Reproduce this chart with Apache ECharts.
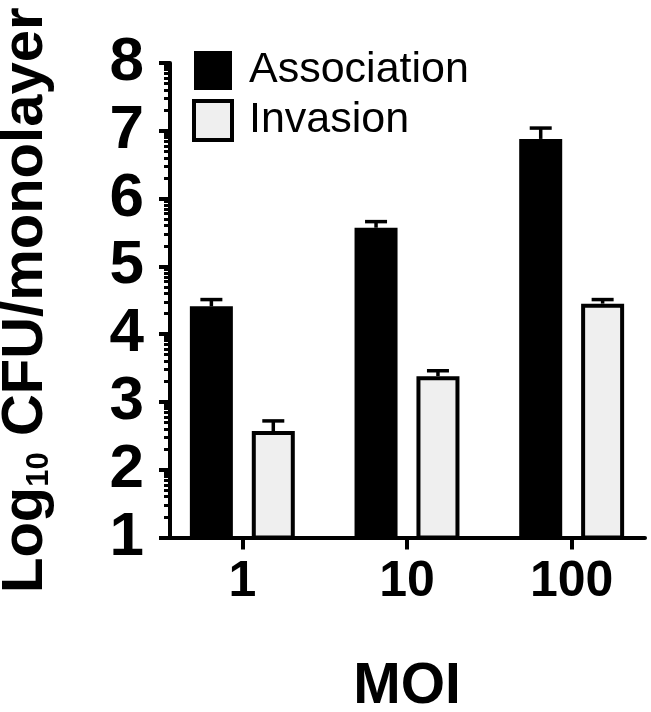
<!DOCTYPE html>
<html>
<head>
<meta charset="utf-8">
<script src="https://cdn.jsdelivr.net/npm/echarts@6/dist/echarts.min.js"></script>
<style>html,body{margin:0;padding:0;background:#fff}#c{width:651px;height:712px}</style>
</head>
<body>
<div id="c"></div>
<script>
const categories = ['1', '10', '100'];
const association = [4.41, 5.57, 6.88];
const associationErr = [0.10, 0.09, 0.16];
const invasion = [2.57, 3.38, 4.45];
const invasionErr = [0.15, 0.08, 0.06];
const yMin = 1, yMax = 8;
const minorTickValues = [];
for (let i = yMin; i < yMax; i++) {
  for (let k = 2; k <= 9; k++) minorTickValues.push(i + Math.log10(k));
}

const FONT = '"Liberation Sans", Arial, sans-serif';
const chart = echarts.init(document.getElementById('c'), null, {renderer: 'canvas'});

function errData(vals, errs) {
  return vals.map((v, i) => [i, v, errs[i]]);
}
function errRender(order) {
  return function (params, api) {
    const idx = api.value(0), top = api.value(1), err = api.value(2);
    const layout = api.barLayout({barWidth: 43, barGap: '44%', count: 2});
    const off = layout[order].offsetCenter;
    const b = api.coord([idx, top]);
    const h = api.coord([idx, top + err]);
    const x = b[0] + off;
    const st = {stroke: '#000', lineWidth: 3.5};
    return {
      type: 'group',
      children: [
        {type: 'line', shape: {x1: x, y1: b[1], x2: x, y2: h[1]}, style: st},
        {type: 'line', shape: {x1: x - 11, y1: h[1], x2: x + 11, y2: h[1]}, style: st}
      ]
    };
  };
}

const option = {
  animation: false,
  backgroundColor: '#fff',
  textStyle: {fontFamily: FONT},
  grid: [
    {left: 160, width: 494, top: 63, height: 474.5, outerBoundsMode: 'none', containLabel: false},
    {left: 170, width: 475, top: 63, height: 474.5, outerBoundsMode: 'none', containLabel: false}
  ],
  legend: {
    orient: 'vertical', left: 192, top: 49, padding: 0,
    icon: 'rect', itemWidth: 38, itemHeight: 39, itemGap: 7,
    textStyle: {fontFamily: FONT, fontSize: 43, color: '#000', padding: [0, 0, 0, 12], lineHeight: 39},
    data: [{name: 'Association'}, {name: 'Invasion', itemStyle: {borderWidth: 4, borderColor: '#000'}}]
  },
  xAxis: [
    {
      type: 'category', gridIndex: 0, data: categories,
      axisLine: {show: false},
      axisTick: {show: true, alignWithLabel: true, length: 12, lineStyle: {color: '#000', width: 4}},
      axisLabel: {fontFamily: FONT, fontSize: 50, fontWeight: 'bold', color: '#000', margin: 20},
      name: 'MOI', nameLocation: 'middle', nameGap: 121,
      nameTextStyle: {fontFamily: FONT, fontSize: 57, fontWeight: 'bold', color: '#000'}
    },
    {
      type: 'value', gridIndex: 1, min: 0, max: 1,
      axisLine: {show: true, lineStyle: {color: '#000', width: 4}},
      axisTick: {show: false}, axisLabel: {show: false}, splitLine: {show: false}
    }
  ],
  yAxis: [
    {
      type: 'value', gridIndex: 1, position: 'left', min: yMin, max: yMax, interval: 1,
      axisLine: {show: true, lineStyle: {color: '#000', width: 4}},
      axisTick: {show: true, length: 11, lineStyle: {color: '#000', width: 4}},
      axisLabel: {fontFamily: FONT, fontSize: 62, fontWeight: 'bold', color: '#000', margin: 26},
      splitLine: {show: false},
      name: '{a|Log}{s|10}{a| CFU/monolayer}',
      nameLocation: 'middle', nameGap: 115,
      nameTextStyle: {
        color: '#000',
        rich: {
          a: {fontFamily: FONT, fontSize: 58, fontWeight: 'bold', color: '#000', lineHeight: 58},
          s: {fontFamily: FONT, fontSize: 31, fontWeight: 'bold', color: '#000', lineHeight: 37, verticalAlign: 'bottom'}
        }
      }
    },
    {
      type: 'value', gridIndex: 1, position: 'left', min: yMin, max: yMax,
      axisLine: {show: false},
      axisTick: {show: true, length: 6, customValues: minorTickValues, lineStyle: {color: '#000', width: 3}},
      axisLabel: {show: false}, splitLine: {show: false}
    },
    {
      type: 'value', gridIndex: 0, min: yMin, max: yMax, show: false
    }
  ],
  series: [
    {
      name: 'Association', type: 'bar', xAxisIndex: 0, yAxisIndex: 2,
      barWidth: 43, barGap: '44%', data: association,
      itemStyle: {color: '#000'}
    },
    {
      name: 'Invasion', type: 'bar', xAxisIndex: 0, yAxisIndex: 2,
      barWidth: 43, barGap: '44%', data: invasion,
      itemStyle: {color: '#efefef', borderColor: '#000', borderWidth: 4}
    },
    {
      type: 'custom', xAxisIndex: 0, yAxisIndex: 2, z: 5,
      data: errData(association, associationErr), renderItem: errRender(0),
      encode: {x: 0, y: 1}
    },
    {
      type: 'custom', xAxisIndex: 0, yAxisIndex: 2, z: 5,
      data: errData(invasion, invasionErr), renderItem: errRender(1),
      encode: {x: 0, y: 1}
    }
  ]
};
chart.setOption(option);
</script>
</body>
</html>
